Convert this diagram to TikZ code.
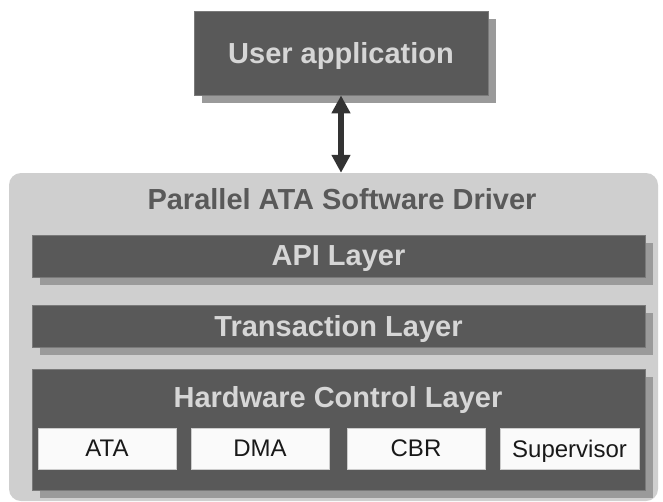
\documentclass[tikz,border=0pt]{standalone}
\usepackage{fontspec}
\setmainfont{Liberation Sans}
\usetikzlibrary{shadows,arrows.meta}
\definecolor{panelgray}{HTML}{CFCFCF}
\definecolor{layergray}{HTML}{595959}
\definecolor{edgegray}{HTML}{7A7A7A}
\definecolor{shadowgray}{HTML}{9A9A9A}
\definecolor{labelgray}{HTML}{D6D6D6}
\definecolor{arrowgray}{HTML}{333333}
\newcommand{\bigfont}{\bfseries\fontsize{29}{34}\selectfont}
\newcommand{\smallfont}{\fontsize{24}{28}\selectfont}
\begin{document}
\begin{tikzpicture}[x=1pt,y=-1pt] % driver stack
\tikzstyle{every node}+=[inner sep=0pt, text depth=0pt]
\tikzstyle{layer}=[fill=layergray, draw=edgegray, line width=0.8pt, text=labelgray, font=\bigfont,
  drop shadow={fill=shadowgray, opacity=1, shadow xshift=7.5pt, shadow yshift=-7.5pt}]
\tikzstyle{unit}=[fill=white!98!black, draw=white!80!black, line width=0.6pt, text=black!90,
  font=\smallfont, minimum width=138pt, minimum height=41pt]
\useasboundingbox (0,0) rectangle (663,501);
\fill [white] (0,0) rectangle (663,501);
% outer driver panel
\node [fill=panelgray, rounded corners=12pt, minimum width=649pt, minimum height=328pt] (driver) at (333.5,337) {};
\node [text=layergray, font=\bigfont] (title) at (342,199) {Parallel ATA Software Driver};
% user box
\node [layer, minimum width=294pt, minimum height=84pt] (user) at (341,53) {User application};
% layers
\node [layer, minimum width=613pt, minimum height=42pt] (api) at (338.5,256) {API Layer};
\node [layer, minimum width=613pt, minimum height=42pt] (trans) at (338.5,326) {Transaction Layer};
\node [layer, minimum width=613pt, minimum height=121pt] (hw) at (338.5,429.5) {};
\node [text=labelgray, font=\bigfont] (hwlabel) at (338,397) {Hardware Control Layer};
% hardware units
\node [unit] (ata) at (107,448.5) {ATA};
\node [unit] (dma) at (260,448.5) {DMA};
\node [unit] (cbr) at (416,448.5) {CBR};
\node [unit, minimum width=139pt] (sup) at (569.5,448.5) {Supervisor};
% link
\draw [arrowgray, line width=6pt, {Triangle[length=18pt,width=18pt]}-{Triangle[length=18pt,width=18pt]}]
  (user.south) -- (user.south |- driver.north);
\end{tikzpicture}
\end{document}
